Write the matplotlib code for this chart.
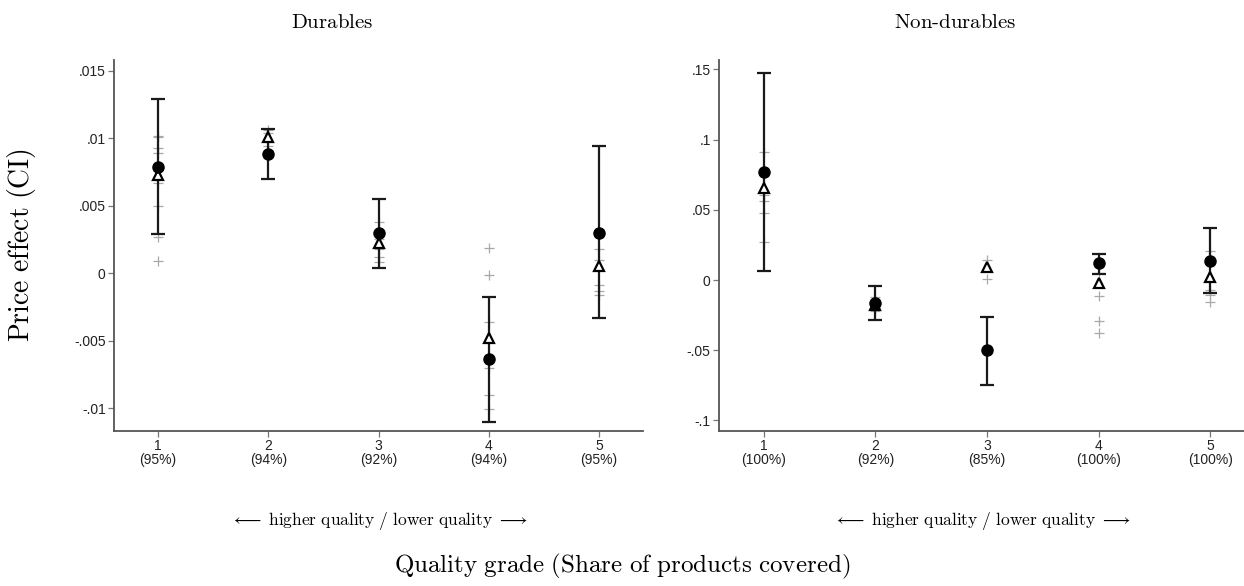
import matplotlib
matplotlib.use("Agg")
import matplotlib.pyplot as plt

plt.rcParams['mathtext.fontset'] = 'cm'
plt.rcParams['font.family'] = ['Liberation Sans', 'DejaVu Sans']

grades = [1, 2, 3, 4, 5]

# Durables
dur_share = ['95%', '94%', '92%', '94%', '95%']
dur_est = [0.0079, 0.0088, 0.0030, -0.0064, 0.0030]
dur_alt = [0.0073, 0.0101, 0.0022, -0.0048, 0.0005]
dur_lo = [0.0029, 0.0070, 0.0004, -0.0110, -0.0033]
dur_hi = [0.0129, 0.0107, 0.0055, -0.0018, 0.0094]
dur_other = [
    [0.0102, 0.0101, 0.0093, 0.0089, 0.0067, 0.0050, 0.0027, 0.0009],
    [0.0106, 0.0104, 0.0097, 0.0094],
    [0.0038, 0.0025, 0.0018, 0.0012, 0.0008],
    [0.0019, -0.0001, -0.0036, -0.0070, -0.0090, -0.0101],
    [0.0018, 0.0010, -0.0009, -0.0013, -0.0016],
]

# Non-durables
nd_share = ['100%', '92%', '85%', '100%', '100%']
nd_est = [0.0769, -0.0164, -0.0499, 0.0121, 0.0135]
nd_alt = [0.0655, -0.0180, 0.0095, -0.0021, 0.0021]
nd_lo = [0.0064, -0.0285, -0.0748, 0.0043, -0.0093]
nd_hi = [0.1474, -0.0043, -0.0264, 0.0185, 0.0370]
nd_other = [
    [0.0910, 0.0630, 0.0605, 0.0560, 0.0480, 0.0270],
    [-0.0120, -0.0150, -0.0200, -0.0220],
    [0.0142, 0.0007],
    [0.0050, -0.0114, -0.0292, -0.0377],
    [0.0207, -0.0070, -0.0110, -0.0157],
]

fig = plt.figure(figsize=(12.44, 5.86), dpi=100)
W, H = 1244, 586


def panel(rect, title, title_x, est, alt, lo, hi, other, share, yticks, yticklabels, ylim, xlim):
    l, t, r, b = rect
    ax = fig.add_axes([l / W, 1 - b / H, (r - l) / W, (b - t) / H])
    for g, vals in zip(grades, other):
        ax.plot([g] * len(vals), vals, '+', color='#a8a8a8', ms=7, mew=0.9, zorder=1)
    yerr = [[e - a for e, a in zip(est, lo)], [h - e for e, h in zip(est, hi)]]
    ax.errorbar(grades, est, yerr=yerr, fmt='none', ecolor='#1a1a1a',
                elinewidth=1.6, capsize=5, capthick=1.6, zorder=2)
    ax.plot(grades, alt, '^', ms=7, mfc='white', mec='black', mew=1.6, ls='none', zorder=3)
    ax.plot(grades, est, 'o', ms=8, color='black', ls='none', zorder=4)
    ax.set_xlim(*xlim)
    ax.set_ylim(*ylim)
    ax.set_xticks(grades)
    ax.set_xticklabels([f'{g}\n({s})' for g, s in zip(grades, share)],
                       fontsize=10, color='#222222', linespacing=0.95)
    ax.set_yticks(yticks)
    ax.set_yticklabels(yticklabels, fontsize=10, color='#222222')
    for side in ['top', 'right']:
        ax.spines[side].set_visible(False)
    for side in ['left', 'bottom']:
        ax.spines[side].set_color('#555555')
        ax.spines[side].set_linewidth(1.3)
    ax.tick_params(axis='both', color='#777777', length=4, width=0.9, pad=2)
    fig.text(title_x / W, 1 - 22 / H, r'$\mathrm{' + title + '}$',
             ha='center', va='center', fontsize=15)
    cx = (l + r) / 2 / W
    fig.text(cx, 1 - 521 / H,
             r'$\longleftarrow\ \mathrm{higher\ quality\ /\ lower\ quality}\ \longrightarrow$',
             ha='center', va='center', fontsize=12.5)
    return ax


panel((114, 60, 643, 431), 'Durables', 332, dur_est, dur_alt, dur_lo, dur_hi, dur_other, dur_share,
      [-0.01, -0.005, 0, 0.005, 0.01, 0.015],
      ['-.01', '-.005', '0', '.005', '.01', '.015'],
      (-0.0117, 0.0158), (0.6, 5.4))

panel((719, 60, 1244, 431), 'Non\\text{-}durables', 955, nd_est, nd_alt, nd_lo, nd_hi, nd_other, nd_share,
      [-0.1, -0.05, 0, 0.05, 0.1, 0.15],
      ['-.1', '-.05', '0', '.05', '.1', '.15'],
      (-0.1075, 0.1567), (0.6, 5.3))

fig.text(22 / W, 1 - 245 / H, r'$\mathrm{Price\ effect\ (CI)}$', rotation=90,
         ha='center', va='center', fontsize=20)
fig.text(622 / W, 1 - 566 / H, r'$\mathrm{Quality\ grade\ (Share\ of\ products\ covered)}$',
         ha='center', va='center', fontsize=18)

fig.savefig('out.png', dpi=100)
